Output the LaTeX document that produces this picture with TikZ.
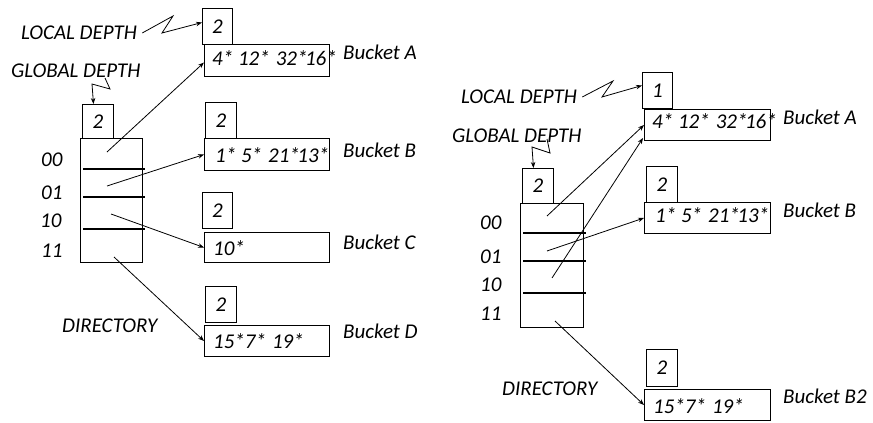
\documentclass[tikz,border=0pt]{standalone}
\usepackage{fontspec}
\setmainfont{Carlito}
\usetikzlibrary{arrows.meta}
\begin{document}
\begin{tikzpicture}[x=1pt,y=-1pt,
  every node/.style={font=\fontsize{21}{24}\selectfont\itshape},
  txt/.style={anchor=west,inner sep=0pt},
  box/.style={draw,line width=1pt,inner sep=0pt,anchor=north west},
  arr/.style={-{Stealth[length=6pt,width=4.5pt]},line width=0.8pt},
  zz/.style={-{Stealth[length=6pt,width=4.5pt]},line width=0.8pt},
  div/.style={line width=2pt}]
\useasboundingbox (0,0) rectangle (873,423);

% ================= LEFT =================
\node[txt] (ldL) at (21,33) {LOCAL DEPTH};
\node[txt] (gdL) at (11,71) {GLOBAL DEPTH};
\node[txt] (dirtL) at (62,326) {DIRECTORY};

\node[box,minimum width=62pt,minimum height=124pt] (dirL) at (80,138) {};
\node[box,minimum width=31pt,minimum height=34pt] (gL) at (82,104) {2};
\draw[div] (83,169) -- (145,169);
\draw[div] (83,197) -- (145,197);
\draw[div] (83,229) -- (145,229);

\node[txt] (r00L) at (41,160) {00};
\node[txt] (r01L) at (41,193) {01};
\node[txt] (r10L) at (40,221) {10};
\node[txt] (r11L) at (41,251) {11};

\node[box,minimum width=30pt,minimum height=36pt] (lA) at (202,8) {2};
\node[box,minimum width=125pt,minimum height=32pt] (bA) at (204,44) {};
\node[txt] (tA) at (212,58) {4* 12*\hspace{6pt}32*\hspace{-2.5pt}16*};
\node[txt] (nA) at (343,52) {Bucket A};

\node[box,minimum width=31pt,minimum height=36pt] (lB) at (205,102) {2};
\node[box,minimum width=125pt,minimum height=32pt] (bB) at (204,138) {};
\node[txt] (tB) at (215,155) {1* 5*\hspace{6pt}21*\hspace{-2.5pt}13*};
\node[txt] (nB) at (343,150) {Bucket B};

\node[box,minimum width=30pt,minimum height=36pt] (lC) at (202,192) {2};
\node[box,minimum width=125pt,minimum height=30pt] (bC) at (204,232) {};
\node[txt] (tC) at (213,248) {10*};
\node[txt] (nC) at (343,242) {Bucket C};

\node[box,minimum width=31pt,minimum height=36pt] (lD) at (205,286) {2};
\node[box,minimum width=125pt,minimum height=31pt] (bD) at (204,325) {};
\node[txt] (tD) at (213,341) {15*7*\hspace{6pt}19*};
\node[txt] (nD) at (343,331) {Bucket D};

\draw[zz] ([xshift=5pt]ldL.east) -- (173,16) -- (162,33) -- ([yshift=4pt]lA.west);
\draw[zz] (105,78) -- (110,89) -- (92,84) -- ([xshift=-4.5pt]gL.north);

\coordinate (s1L) at (107,152);
\coordinate (s2L) at (107,186);
\coordinate (s3L) at (111,214);
\coordinate (s4L) at (114,257);
\draw[arr] (s1L) -- ([yshift=-2pt]bA.west);
\draw[arr] (s2L) -- (bB.west);
\draw[arr] (s3L) -- (bC.west);
\draw[arr] (s4L) -- (bD.west);

% ================= RIGHT =================
\node[txt] (ldR) at (461,97) {LOCAL DEPTH};
\node[txt] (gdR) at (452,136) {GLOBAL DEPTH};
\node[txt] (dirtR) at (502,389) {DIRECTORY};

\node[box,minimum width=63pt,minimum height=124pt] (dirR) at (520,203) {};
\node[box,minimum width=31pt,minimum height=35pt] (gR) at (522,168) {2};
\draw[div] (523,233) -- (586,233);
\draw[div] (523,261) -- (586,261);
\draw[div] (523,293) -- (586,293);

\node[txt] (r00R) at (480,223) {00};
\node[txt] (r01R) at (480,257) {01};
\node[txt] (r10R) at (480,285) {10};
\node[txt] (r11R) at (480,314) {11};

\node[box,minimum width=30pt,minimum height=36pt] (rlA) at (642,72) {1};
\node[box,minimum width=126pt,minimum height=31pt] (rA) at (644,109) {};
\node[txt] (rtA) at (652,121) {4* 12*\hspace{6pt}32*\hspace{-2.5pt}16*};
\node[txt] (rnA) at (783,117) {Bucket A};

\node[box,minimum width=31pt,minimum height=36pt] (rlB) at (646,166) {2};
\node[box,minimum width=126pt,minimum height=31pt] (rB) at (644,202) {};
\node[txt] (rtB) at (655,215) {1* 5*\hspace{6pt}21*\hspace{-2.5pt}13*};
\node[txt] (rnB) at (783,210) {Bucket B};

\node[box,minimum width=31pt,minimum height=37pt] (rlB2) at (646,349) {2};
\node[box,minimum width=126pt,minimum height=31pt] (rB2) at (644,389) {};
\node[txt] (rtB2) at (653,406) {15*7*\hspace{6pt}19*};
\node[txt] (rnB2) at (783,396) {Bucket B2};

\draw[zz] ([xshift=5pt]ldR.east) -- (613,81) -- (602,97) -- ([yshift=5pt]rlA.west);
\draw[zz] (547,139) -- (550,153) -- (532,147) -- ([xshift=-4.5pt]gR.north);

\coordinate (s1R) at (547,216);
\coordinate (s2R) at (547,251);
\coordinate (s3R) at (552,278);
\coordinate (s4R) at (555,321);
\draw[arr] (s1R) -- (rA.west);
\draw[arr] (s2R) -- (rB.west);
\draw[arr] (s3R) -- ([xshift=-1pt,yshift=3pt]rA.south west);
\draw[arr] (s4R) -- (rB2.west);
\end{tikzpicture}
\end{document}
